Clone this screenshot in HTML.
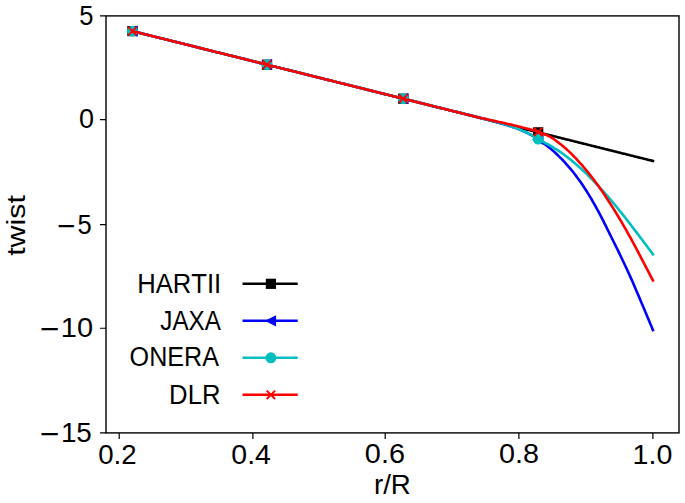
<!DOCTYPE html>
<html><head><meta charset="utf-8"><title>twist vs r/R</title>
<style>html,body{margin:0;padding:0;background:#fff;}body{width:685px;height:503px;overflow:hidden;font-family:"Liberation Sans",sans-serif;}svg{display:block;}text{font-kerning:none;}</style>
</head><body>
<svg width="685" height="503" viewBox="0 0 685 503">
<rect width="685" height="503" fill="#fff"/>
<defs><clipPath id="ax"><rect x="106.0" y="15.9" width="573.0" height="417.0"/></clipPath></defs>
<g clip-path="url(#ax)">
<polyline points="132.15,31.05 133.46,31.38 134.76,31.70 136.07,32.03 137.37,32.35 138.68,32.68 139.98,33.00 141.29,33.33 142.59,33.65 143.90,33.98 145.20,34.31 146.51,34.63 147.81,34.96 149.12,35.28 150.42,35.61 151.73,35.93 153.03,36.26 154.34,36.58 155.64,36.91 156.95,37.24 158.25,37.56 159.56,37.89 160.86,38.21 162.17,38.54 163.47,38.86 164.78,39.19 166.08,39.51 167.39,39.84 168.69,40.17 170.00,40.49 171.30,40.82 172.61,41.14 173.91,41.47 175.22,41.79 176.52,42.12 177.83,42.44 179.13,42.77 180.44,43.10 181.75,43.42 183.05,43.75 184.36,44.07 185.66,44.40 186.97,44.72 188.27,45.05 189.58,45.37 190.88,45.70 192.19,46.03 193.49,46.35 194.80,46.68 196.10,47.00 197.41,47.33 198.71,47.65 200.02,47.98 201.32,48.30 202.63,48.63 203.93,48.96 205.24,49.28 206.54,49.61 207.85,49.93 209.15,50.26 210.46,50.58 211.76,50.91 213.07,51.23 214.37,51.56 215.68,51.89 216.98,52.21 218.29,52.54 219.59,52.86 220.90,53.19 222.20,53.51 223.51,53.84 224.81,54.17 226.12,54.49 227.43,54.82 228.73,55.14 230.04,55.47 231.34,55.79 232.65,56.12 233.95,56.44 235.26,56.77 236.56,57.10 237.87,57.42 239.17,57.75 240.48,58.07 241.78,58.40 243.09,58.72 244.39,59.05 245.70,59.37 247.00,59.70 248.31,60.03 249.61,60.35 250.92,60.68 252.22,61.00 253.53,61.33 254.83,61.65 256.14,61.98 257.44,62.30 258.75,62.63 260.05,62.96 261.36,63.28 262.66,63.61 263.97,63.93 265.27,64.26 266.58,64.58 267.88,64.91 269.19,65.23 270.49,65.56 271.80,65.89 273.10,66.21 274.41,66.54 275.72,66.86 277.02,67.19 278.33,67.51 279.63,67.84 280.94,68.16 282.24,68.49 283.55,68.82 284.85,69.14 286.16,69.47 287.46,69.79 288.77,70.12 290.07,70.44 291.38,70.77 292.68,71.09 293.99,71.42 295.29,71.75 296.60,72.07 297.90,72.40 299.21,72.72 300.51,73.05 301.82,73.37 303.12,73.70 304.43,74.02 305.73,74.35 307.04,74.68 308.34,75.00 309.65,75.33 310.95,75.65 312.26,75.98 313.56,76.30 314.87,76.63 316.17,76.95 317.48,77.28 318.78,77.61 320.09,77.93 321.39,78.26 322.70,78.58 324.01,78.91 325.31,79.23 326.62,79.56 327.92,79.88 329.23,80.21 330.53,80.54 331.84,80.86 333.14,81.19 334.45,81.51 335.75,81.84 337.06,82.16 338.36,82.49 339.67,82.81 340.97,83.14 342.28,83.47 343.58,83.79 344.89,84.12 346.19,84.44 347.50,84.77 348.80,85.09 350.11,85.42 351.41,85.74 352.72,86.07 354.02,86.40 355.33,86.72 356.63,87.05 357.94,87.37 359.24,87.70 360.55,88.02 361.85,88.35 363.16,88.67 364.46,89.00 365.77,89.33 367.07,89.65 368.38,89.98 369.69,90.30 370.99,90.63 372.30,90.95 373.60,91.28 374.91,91.60 376.21,91.93 377.52,92.26 378.82,92.58 380.13,92.91 381.43,93.23 382.74,93.56 384.04,93.88 385.35,94.21 386.65,94.53 387.96,94.86 389.26,95.19 390.57,95.51 391.87,95.84 393.18,96.16 394.48,96.49 395.79,96.81 397.09,97.14 398.40,97.47 399.70,97.79 401.01,98.12 402.31,98.44 403.62,98.77 404.92,99.09 406.23,99.42 407.53,99.74 408.84,100.07 410.14,100.40 411.45,100.72 412.75,101.05 414.06,101.37 415.36,101.70 416.67,102.02 417.98,102.35 419.28,102.67 420.59,103.00 421.89,103.33 423.20,103.65 424.50,103.98 425.81,104.30 427.11,104.63 428.42,104.95 429.72,105.28 431.03,105.60 432.33,105.93 433.64,106.26 434.94,106.58 436.25,106.91 437.55,107.23 438.86,107.56 440.16,107.88 441.47,108.21 442.77,108.53 444.08,108.86 445.38,109.19 446.69,109.51 447.99,109.84 449.30,110.16 450.60,110.49 451.91,110.81 453.21,111.14 454.52,111.46 455.82,111.79 457.13,112.12 458.43,112.44 459.74,112.77 461.04,113.09 462.35,113.42 463.66,113.74 464.96,114.07 466.27,114.39 467.57,114.72 468.88,115.05 470.18,115.37 471.49,115.70 472.79,116.02 474.10,116.35 475.40,116.67 476.71,117.00 478.01,117.32 479.32,117.65 480.62,117.98 481.93,118.30 483.23,118.63 484.54,118.95 485.84,119.28 487.15,119.60 488.45,119.93 489.76,120.25 491.06,120.58 492.37,120.91 493.67,121.23 494.98,121.56 496.28,121.88 497.59,122.21 498.89,122.53 500.20,122.86 501.50,123.18 502.81,123.51 504.11,123.84 505.42,124.16 506.72,124.49 508.03,124.81 509.33,125.14 510.64,125.46 511.95,125.79 513.25,126.11 514.56,126.44 515.86,126.77 517.17,127.09 518.47,127.42 519.78,127.74 521.08,128.07 522.39,128.39 523.69,128.72 525.00,129.04 526.30,129.37 527.61,129.70 528.91,130.02 530.22,130.35 531.52,130.67 532.83,131.00 534.13,131.32 535.44,131.65 536.74,131.97 538.05,132.30 539.35,132.63 540.66,132.95 541.96,133.28 543.27,133.60 544.57,133.93 545.88,134.25 547.18,134.58 548.49,134.90 549.79,135.23 551.10,135.56 552.40,135.88 553.71,136.21 555.01,136.53 556.32,136.86 557.62,137.18 558.93,137.51 560.24,137.83 561.54,138.16 562.85,138.49 564.15,138.81 565.46,139.14 566.76,139.46 568.07,139.79 569.37,140.11 570.68,140.44 571.98,140.77 573.29,141.09 574.59,141.42 575.90,141.74 577.20,142.07 578.51,142.39 579.81,142.72 581.12,143.04 582.42,143.37 583.73,143.70 585.03,144.02 586.34,144.35 587.64,144.67 588.95,145.00 590.25,145.32 591.56,145.65 592.86,145.97 594.17,146.30 595.47,146.63 596.78,146.95 598.08,147.28 599.39,147.60 600.69,147.93 602.00,148.25 603.30,148.58 604.61,148.90 605.92,149.23 607.22,149.56 608.53,149.88 609.83,150.21 611.14,150.53 612.44,150.86 613.75,151.18 615.05,151.51 616.36,151.83 617.66,152.16 618.97,152.49 620.27,152.81 621.58,153.14 622.88,153.46 624.19,153.79 625.49,154.11 626.80,154.44 628.10,154.76 629.41,155.09 630.71,155.42 632.02,155.74 633.32,156.07 634.63,156.39 635.93,156.72 637.24,157.04 638.54,157.37 639.85,157.69 641.15,158.02 642.46,158.35 643.76,158.67 645.07,159.00 646.37,159.32 647.68,159.65 648.98,159.97 650.29,160.30 651.59,160.62 652.90,160.95" fill="none" stroke="#000000" stroke-width="2.6" stroke-linejoin="round" stroke-linecap="square"/>
<rect x="128.00" y="26.71" width="8.8" height="8.8" fill="#000000" stroke="#000000" stroke-width="1.4" stroke-linejoin="miter"/>
<rect x="262.55" y="60.28" width="8.8" height="8.8" fill="#000000" stroke="#000000" stroke-width="1.4" stroke-linejoin="miter"/>
<rect x="398.85" y="94.28" width="8.8" height="8.8" fill="#000000" stroke="#000000" stroke-width="1.4" stroke-linejoin="miter"/>
<rect x="533.80" y="127.94" width="8.8" height="8.8" fill="#000000" stroke="#000000" stroke-width="1.4" stroke-linejoin="miter"/>
<polyline points="132.15,31.05 133.46,31.38 134.76,31.70 136.07,32.03 137.37,32.35 138.68,32.68 139.98,33.00 141.29,33.33 142.59,33.65 143.90,33.98 145.20,34.31 146.51,34.63 147.81,34.96 149.12,35.28 150.42,35.61 151.73,35.93 153.03,36.26 154.34,36.58 155.64,36.91 156.95,37.24 158.25,37.56 159.56,37.89 160.86,38.21 162.17,38.54 163.47,38.86 164.78,39.19 166.08,39.51 167.39,39.84 168.69,40.17 170.00,40.49 171.30,40.82 172.61,41.14 173.91,41.47 175.22,41.79 176.52,42.12 177.83,42.44 179.13,42.77 180.44,43.10 181.75,43.42 183.05,43.75 184.36,44.07 185.66,44.40 186.97,44.72 188.27,45.05 189.58,45.37 190.88,45.70 192.19,46.03 193.49,46.35 194.80,46.68 196.10,47.00 197.41,47.33 198.71,47.65 200.02,47.98 201.32,48.30 202.63,48.63 203.93,48.96 205.24,49.28 206.54,49.61 207.85,49.93 209.15,50.26 210.46,50.58 211.76,50.91 213.07,51.23 214.37,51.56 215.68,51.89 216.98,52.21 218.29,52.54 219.59,52.86 220.90,53.19 222.20,53.51 223.51,53.84 224.81,54.17 226.12,54.49 227.43,54.82 228.73,55.14 230.04,55.47 231.34,55.79 232.65,56.12 233.95,56.44 235.26,56.77 236.56,57.10 237.87,57.42 239.17,57.75 240.48,58.07 241.78,58.40 243.09,58.72 244.39,59.05 245.70,59.37 247.00,59.70 248.31,60.03 249.61,60.35 250.92,60.68 252.22,61.00 253.53,61.33 254.83,61.65 256.14,61.98 257.44,62.30 258.75,62.63 260.05,62.96 261.36,63.28 262.66,63.61 263.97,63.93 265.27,64.26 266.58,64.58 267.88,64.91 269.19,65.23 270.49,65.56 271.80,65.89 273.10,66.21 274.41,66.54 275.72,66.86 277.02,67.19 278.33,67.51 279.63,67.84 280.94,68.16 282.24,68.49 283.55,68.82 284.85,69.14 286.16,69.47 287.46,69.79 288.77,70.12 290.07,70.44 291.38,70.77 292.68,71.09 293.99,71.42 295.29,71.75 296.60,72.07 297.90,72.40 299.21,72.72 300.51,73.05 301.82,73.37 303.12,73.70 304.43,74.02 305.73,74.35 307.04,74.68 308.34,75.00 309.65,75.33 310.95,75.65 312.26,75.98 313.56,76.30 314.87,76.63 316.17,76.95 317.48,77.28 318.78,77.61 320.09,77.93 321.39,78.26 322.70,78.58 324.01,78.91 325.31,79.23 326.62,79.56 327.92,79.88 329.23,80.21 330.53,80.54 331.84,80.86 333.14,81.19 334.45,81.51 335.75,81.84 337.06,82.16 338.36,82.49 339.67,82.81 340.97,83.14 342.28,83.47 343.58,83.79 344.89,84.12 346.19,84.44 347.50,84.77 348.80,85.09 350.11,85.42 351.41,85.74 352.72,86.07 354.02,86.40 355.33,86.72 356.63,87.05 357.94,87.37 359.24,87.70 360.55,88.02 361.85,88.35 363.16,88.67 364.46,89.00 365.77,89.33 367.07,89.65 368.38,89.98 369.69,90.30 370.99,90.63 372.30,90.95 373.60,91.28 374.91,91.60 376.21,91.93 377.52,92.26 378.82,92.58 380.13,92.91 381.43,93.23 382.74,93.56 384.04,93.88 385.35,94.21 386.65,94.53 387.96,94.86 389.26,95.19 390.57,95.51 391.87,95.84 393.18,96.16 394.48,96.49 395.79,96.81 397.09,97.14 398.40,97.47 399.70,97.79 401.01,98.12 402.31,98.44 403.62,98.77 404.92,99.09 406.23,99.42 407.53,99.74 408.84,100.07 410.14,100.40 411.45,100.72 412.75,101.05 414.06,101.37 415.36,101.70 416.67,102.02 417.98,102.35 419.28,102.67 420.59,103.00 421.89,103.33 423.20,103.65 424.50,103.98 425.81,104.30 427.11,104.63 428.42,104.95 429.72,105.28 431.03,105.60 432.33,105.93 433.64,106.26 434.94,106.58 436.25,106.91 437.55,107.23 438.86,107.56 440.16,107.88 441.47,108.21 442.77,108.53 444.08,108.86 445.38,109.19 446.69,109.51 447.99,109.84 449.30,110.16 450.60,110.49 451.91,110.81 453.21,111.14 454.52,111.46 455.82,111.79 457.13,112.12 458.43,112.44 459.74,112.77 461.04,113.09 462.35,113.42 463.66,113.74 464.96,114.07 466.27,114.39 467.57,114.72 468.88,115.05 470.18,115.37 471.49,115.70 472.79,116.02 474.10,116.35 475.40,116.67 476.71,117.00 478.01,117.32 479.32,117.65 480.62,117.98 481.93,118.31 483.23,118.65 484.54,118.99 485.84,119.33 487.15,119.67 488.45,120.01 489.76,120.35 491.06,120.69 492.37,121.04 493.67,121.39 494.98,121.74 496.28,122.09 497.59,122.44 498.89,122.80 500.20,123.16 501.50,123.53 502.81,123.91 504.11,124.29 505.42,124.68 506.72,125.08 508.03,125.48 509.33,125.89 510.64,126.31 511.95,126.74 513.25,127.18 514.56,127.64 515.86,128.12 517.17,128.60 518.47,129.10 519.78,129.61 521.08,130.14 522.39,130.69 523.69,131.28 525.00,131.88 526.30,132.51 527.61,133.16 528.91,133.83 530.22,134.51 531.52,135.22 532.83,135.97 534.13,136.76 535.44,137.58 536.74,138.42 538.05,139.27 539.35,140.15 540.66,141.04 541.96,141.95 543.27,142.90 544.57,143.87 545.88,144.87 547.18,145.90 548.49,146.94 549.79,148.01 551.10,149.11 552.40,150.23 553.71,151.39 555.01,152.58 556.32,153.80 557.62,155.05 558.93,156.32 560.24,157.61 561.54,158.93 562.85,160.28 564.15,161.67 565.46,163.09 566.76,164.54 568.07,166.02 569.37,167.53 570.68,169.08 571.98,170.66 573.29,172.29 574.59,173.96 575.90,175.66 577.20,177.41 578.51,179.19 579.81,181.00 581.12,182.86 582.42,184.76 583.73,186.71 585.03,188.71 586.34,190.74 587.64,192.82 588.95,194.93 590.25,197.08 591.56,199.28 592.86,201.53 594.17,203.83 595.47,206.18 596.78,208.56 598.08,210.97 599.39,213.41 600.69,215.87 602.00,218.39 603.30,220.96 604.61,223.56 605.92,226.19 607.22,228.83 608.53,231.47 609.83,234.11 611.14,236.73 612.44,239.35 613.75,241.98 615.05,244.61 616.36,247.26 617.66,249.92 618.97,252.60 620.27,255.31 621.58,258.02 622.88,260.75 624.19,263.49 625.49,266.26 626.80,269.05 628.10,271.87 629.41,274.73 630.71,277.63 632.02,280.58 633.32,283.58 634.63,286.61 635.93,289.66 637.24,292.73 638.54,295.80 639.85,298.88 641.15,301.94 642.46,305.02 643.76,308.11 645.07,311.20 646.37,314.30 647.68,317.41 648.98,320.53 650.29,323.66 651.59,326.80 652.90,329.95" fill="none" stroke="#0000ff" stroke-width="2.6" stroke-linejoin="round" stroke-linecap="square"/>
<path d="M127.90,31.11L136.90,26.61L136.90,35.61Z" fill="#0000ff" stroke="#0000ff" stroke-width="1.4" stroke-linejoin="miter"/>
<path d="M262.45,64.68L271.45,60.18L271.45,69.18Z" fill="#0000ff" stroke="#0000ff" stroke-width="1.4" stroke-linejoin="miter"/>
<path d="M398.75,98.68L407.75,94.18L407.75,103.18Z" fill="#0000ff" stroke="#0000ff" stroke-width="1.4" stroke-linejoin="miter"/>
<path d="M533.70,139.38L542.70,134.88L542.70,143.88Z" fill="#0000ff" stroke="#0000ff" stroke-width="1.4" stroke-linejoin="miter"/>
<polyline points="132.15,31.05 133.46,31.38 134.76,31.70 136.07,32.03 137.37,32.35 138.68,32.68 139.98,33.00 141.29,33.33 142.59,33.65 143.90,33.98 145.20,34.31 146.51,34.63 147.81,34.96 149.12,35.28 150.42,35.61 151.73,35.93 153.03,36.26 154.34,36.58 155.64,36.91 156.95,37.24 158.25,37.56 159.56,37.89 160.86,38.21 162.17,38.54 163.47,38.86 164.78,39.19 166.08,39.51 167.39,39.84 168.69,40.17 170.00,40.49 171.30,40.82 172.61,41.14 173.91,41.47 175.22,41.79 176.52,42.12 177.83,42.44 179.13,42.77 180.44,43.10 181.75,43.42 183.05,43.75 184.36,44.07 185.66,44.40 186.97,44.72 188.27,45.05 189.58,45.37 190.88,45.70 192.19,46.03 193.49,46.35 194.80,46.68 196.10,47.00 197.41,47.33 198.71,47.65 200.02,47.98 201.32,48.30 202.63,48.63 203.93,48.96 205.24,49.28 206.54,49.61 207.85,49.93 209.15,50.26 210.46,50.58 211.76,50.91 213.07,51.23 214.37,51.56 215.68,51.89 216.98,52.21 218.29,52.54 219.59,52.86 220.90,53.19 222.20,53.51 223.51,53.84 224.81,54.17 226.12,54.49 227.43,54.82 228.73,55.14 230.04,55.47 231.34,55.79 232.65,56.12 233.95,56.44 235.26,56.77 236.56,57.10 237.87,57.42 239.17,57.75 240.48,58.07 241.78,58.40 243.09,58.72 244.39,59.05 245.70,59.37 247.00,59.70 248.31,60.03 249.61,60.35 250.92,60.68 252.22,61.00 253.53,61.33 254.83,61.65 256.14,61.98 257.44,62.30 258.75,62.63 260.05,62.96 261.36,63.28 262.66,63.61 263.97,63.93 265.27,64.26 266.58,64.58 267.88,64.91 269.19,65.23 270.49,65.56 271.80,65.89 273.10,66.21 274.41,66.54 275.72,66.86 277.02,67.19 278.33,67.51 279.63,67.84 280.94,68.16 282.24,68.49 283.55,68.82 284.85,69.14 286.16,69.47 287.46,69.79 288.77,70.12 290.07,70.44 291.38,70.77 292.68,71.09 293.99,71.42 295.29,71.75 296.60,72.07 297.90,72.40 299.21,72.72 300.51,73.05 301.82,73.37 303.12,73.70 304.43,74.02 305.73,74.35 307.04,74.68 308.34,75.00 309.65,75.33 310.95,75.65 312.26,75.98 313.56,76.30 314.87,76.63 316.17,76.95 317.48,77.28 318.78,77.61 320.09,77.93 321.39,78.26 322.70,78.58 324.01,78.91 325.31,79.23 326.62,79.56 327.92,79.88 329.23,80.21 330.53,80.54 331.84,80.86 333.14,81.19 334.45,81.51 335.75,81.84 337.06,82.16 338.36,82.49 339.67,82.81 340.97,83.14 342.28,83.47 343.58,83.79 344.89,84.12 346.19,84.44 347.50,84.77 348.80,85.09 350.11,85.42 351.41,85.74 352.72,86.07 354.02,86.40 355.33,86.72 356.63,87.05 357.94,87.37 359.24,87.70 360.55,88.02 361.85,88.35 363.16,88.67 364.46,89.00 365.77,89.33 367.07,89.65 368.38,89.98 369.69,90.30 370.99,90.63 372.30,90.95 373.60,91.28 374.91,91.60 376.21,91.93 377.52,92.26 378.82,92.58 380.13,92.91 381.43,93.23 382.74,93.56 384.04,93.88 385.35,94.21 386.65,94.53 387.96,94.86 389.26,95.19 390.57,95.51 391.87,95.84 393.18,96.16 394.48,96.49 395.79,96.81 397.09,97.14 398.40,97.47 399.70,97.79 401.01,98.12 402.31,98.44 403.62,98.77 404.92,99.09 406.23,99.42 407.53,99.74 408.84,100.07 410.14,100.40 411.45,100.72 412.75,101.05 414.06,101.37 415.36,101.70 416.67,102.02 417.98,102.35 419.28,102.67 420.59,103.00 421.89,103.33 423.20,103.65 424.50,103.98 425.81,104.30 427.11,104.63 428.42,104.95 429.72,105.28 431.03,105.60 432.33,105.93 433.64,106.26 434.94,106.58 436.25,106.91 437.55,107.23 438.86,107.56 440.16,107.88 441.47,108.21 442.77,108.53 444.08,108.86 445.38,109.19 446.69,109.51 447.99,109.84 449.30,110.16 450.60,110.49 451.91,110.81 453.21,111.14 454.52,111.46 455.82,111.79 457.13,112.12 458.43,112.44 459.74,112.77 461.04,113.09 462.35,113.42 463.66,113.74 464.96,114.07 466.27,114.39 467.57,114.72 468.88,115.05 470.18,115.37 471.49,115.70 472.79,116.02 474.10,116.35 475.40,116.67 476.71,117.00 478.01,117.32 479.32,117.65 480.62,117.98 481.93,118.30 483.23,118.63 484.54,118.95 485.84,119.28 487.15,119.60 488.45,119.93 489.76,120.25 491.06,120.58 492.37,120.91 493.67,121.25 494.98,121.59 496.28,121.93 497.59,122.27 498.89,122.62 500.20,122.96 501.50,123.32 502.81,123.71 504.11,124.10 505.42,124.51 506.72,124.93 508.03,125.36 509.33,125.79 510.64,126.21 511.95,126.65 513.25,127.10 514.56,127.56 515.86,128.03 517.17,128.51 518.47,129.00 519.78,129.51 521.08,130.04 522.39,130.60 523.69,131.19 525.00,131.80 526.30,132.43 527.61,133.08 528.91,133.74 530.22,134.40 531.52,135.11 532.83,135.84 534.13,136.61 535.44,137.39 536.74,138.18 538.05,138.96 539.35,139.72 540.66,140.46 541.96,141.17 543.27,141.88 544.57,142.58 545.88,143.29 547.18,144.00 548.49,144.72 549.79,145.46 551.10,146.22 552.40,146.99 553.71,147.78 555.01,148.57 556.32,149.38 557.62,150.21 558.93,151.06 560.24,151.94 561.54,152.84 562.85,153.77 564.15,154.74 565.46,155.72 566.76,156.72 568.07,157.74 569.37,158.77 570.68,159.81 571.98,160.87 573.29,161.95 574.59,163.05 575.90,164.16 577.20,165.29 578.51,166.44 579.81,167.60 581.12,168.77 582.42,169.97 583.73,171.18 585.03,172.42 586.34,173.67 587.64,174.93 588.95,176.22 590.25,177.51 591.56,178.83 592.86,180.16 594.17,181.52 595.47,182.89 596.78,184.28 598.08,185.68 599.39,187.09 600.69,188.51 602.00,189.95 603.30,191.40 604.61,192.86 605.92,194.34 607.22,195.83 608.53,197.33 609.83,198.85 611.14,200.38 612.44,201.93 613.75,203.49 615.05,205.07 616.36,206.66 617.66,208.26 618.97,209.86 620.27,211.48 621.58,213.11 622.88,214.74 624.19,216.39 625.49,218.05 626.80,219.71 628.10,221.39 629.41,223.07 630.71,224.76 632.02,226.46 633.32,228.18 634.63,229.90 635.93,231.63 637.24,233.36 638.54,235.09 639.85,236.83 641.15,238.57 642.46,240.31 643.76,242.05 645.07,243.80 646.37,245.55 647.68,247.30 648.98,249.06 650.29,250.82 651.59,252.58 652.90,254.35" fill="none" stroke="#00bfbf" stroke-width="2.6" stroke-linejoin="round" stroke-linecap="square"/>
<circle cx="132.40" cy="31.11" r="4.75" fill="#00bfbf" stroke="#00bfbf" stroke-width="1.4"/>
<circle cx="266.95" cy="64.68" r="4.75" fill="#00bfbf" stroke="#00bfbf" stroke-width="1.4"/>
<circle cx="403.25" cy="98.68" r="4.75" fill="#00bfbf" stroke="#00bfbf" stroke-width="1.4"/>
<circle cx="538.20" cy="139.04" r="4.75" fill="#00bfbf" stroke="#00bfbf" stroke-width="1.4"/>
<polyline points="132.15,31.05 133.46,31.38 134.76,31.70 136.07,32.03 137.37,32.35 138.68,32.68 139.98,33.00 141.29,33.33 142.59,33.65 143.90,33.98 145.20,34.31 146.51,34.63 147.81,34.96 149.12,35.28 150.42,35.61 151.73,35.93 153.03,36.26 154.34,36.58 155.64,36.91 156.95,37.24 158.25,37.56 159.56,37.89 160.86,38.21 162.17,38.54 163.47,38.86 164.78,39.19 166.08,39.51 167.39,39.84 168.69,40.17 170.00,40.49 171.30,40.82 172.61,41.14 173.91,41.47 175.22,41.79 176.52,42.12 177.83,42.44 179.13,42.77 180.44,43.10 181.75,43.42 183.05,43.75 184.36,44.07 185.66,44.40 186.97,44.72 188.27,45.05 189.58,45.37 190.88,45.70 192.19,46.03 193.49,46.35 194.80,46.68 196.10,47.00 197.41,47.33 198.71,47.65 200.02,47.98 201.32,48.30 202.63,48.63 203.93,48.96 205.24,49.28 206.54,49.61 207.85,49.93 209.15,50.26 210.46,50.58 211.76,50.91 213.07,51.23 214.37,51.56 215.68,51.89 216.98,52.21 218.29,52.54 219.59,52.86 220.90,53.19 222.20,53.51 223.51,53.84 224.81,54.17 226.12,54.49 227.43,54.82 228.73,55.14 230.04,55.47 231.34,55.79 232.65,56.12 233.95,56.44 235.26,56.77 236.56,57.10 237.87,57.42 239.17,57.75 240.48,58.07 241.78,58.40 243.09,58.72 244.39,59.05 245.70,59.37 247.00,59.70 248.31,60.03 249.61,60.35 250.92,60.68 252.22,61.00 253.53,61.33 254.83,61.65 256.14,61.98 257.44,62.30 258.75,62.63 260.05,62.96 261.36,63.28 262.66,63.61 263.97,63.93 265.27,64.26 266.58,64.58 267.88,64.91 269.19,65.23 270.49,65.56 271.80,65.89 273.10,66.21 274.41,66.54 275.72,66.86 277.02,67.19 278.33,67.51 279.63,67.84 280.94,68.16 282.24,68.49 283.55,68.82 284.85,69.14 286.16,69.47 287.46,69.79 288.77,70.12 290.07,70.44 291.38,70.77 292.68,71.09 293.99,71.42 295.29,71.75 296.60,72.07 297.90,72.40 299.21,72.72 300.51,73.05 301.82,73.37 303.12,73.70 304.43,74.02 305.73,74.35 307.04,74.68 308.34,75.00 309.65,75.33 310.95,75.65 312.26,75.98 313.56,76.30 314.87,76.63 316.17,76.95 317.48,77.28 318.78,77.61 320.09,77.93 321.39,78.26 322.70,78.58 324.01,78.91 325.31,79.23 326.62,79.56 327.92,79.88 329.23,80.21 330.53,80.54 331.84,80.86 333.14,81.19 334.45,81.51 335.75,81.84 337.06,82.16 338.36,82.49 339.67,82.81 340.97,83.14 342.28,83.47 343.58,83.79 344.89,84.12 346.19,84.44 347.50,84.77 348.80,85.09 350.11,85.42 351.41,85.74 352.72,86.07 354.02,86.40 355.33,86.72 356.63,87.05 357.94,87.37 359.24,87.70 360.55,88.02 361.85,88.35 363.16,88.67 364.46,89.00 365.77,89.33 367.07,89.65 368.38,89.98 369.69,90.30 370.99,90.63 372.30,90.95 373.60,91.28 374.91,91.60 376.21,91.93 377.52,92.26 378.82,92.58 380.13,92.91 381.43,93.23 382.74,93.56 384.04,93.88 385.35,94.21 386.65,94.53 387.96,94.86 389.26,95.19 390.57,95.51 391.87,95.84 393.18,96.16 394.48,96.49 395.79,96.81 397.09,97.14 398.40,97.47 399.70,97.79 401.01,98.12 402.31,98.44 403.62,98.77 404.92,99.09 406.23,99.42 407.53,99.74 408.84,100.07 410.14,100.40 411.45,100.72 412.75,101.05 414.06,101.37 415.36,101.70 416.67,102.02 417.98,102.35 419.28,102.67 420.59,103.00 421.89,103.33 423.20,103.65 424.50,103.98 425.81,104.30 427.11,104.63 428.42,104.95 429.72,105.28 431.03,105.60 432.33,105.93 433.64,106.26 434.94,106.58 436.25,106.91 437.55,107.23 438.86,107.56 440.16,107.88 441.47,108.21 442.77,108.53 444.08,108.86 445.38,109.19 446.69,109.51 447.99,109.84 449.30,110.16 450.60,110.49 451.91,110.81 453.21,111.14 454.52,111.46 455.82,111.79 457.13,112.12 458.43,112.44 459.74,112.77 461.04,113.09 462.35,113.42 463.66,113.74 464.96,114.07 466.27,114.39 467.57,114.72 468.88,115.05 470.18,115.37 471.49,115.70 472.79,116.02 474.10,116.35 475.40,116.67 476.71,117.00 478.01,117.32 479.32,117.65 480.62,117.96 481.93,118.24 483.23,118.53 484.54,118.82 485.84,119.10 487.15,119.39 488.45,119.68 489.76,119.96 491.06,120.25 492.37,120.53 493.67,120.82 494.98,121.11 496.28,121.39 497.59,121.68 498.89,121.97 500.20,122.25 501.50,122.54 502.81,122.82 504.11,123.10 505.42,123.38 506.72,123.66 508.03,123.95 509.33,124.25 510.64,124.55 511.95,124.86 513.25,125.17 514.56,125.48 515.86,125.79 517.17,126.10 518.47,126.42 519.78,126.74 521.08,127.07 522.39,127.40 523.69,127.74 525.00,128.07 526.30,128.41 527.61,128.76 528.91,129.10 530.22,129.45 531.52,129.81 532.83,130.19 534.13,130.58 535.44,130.99 536.74,131.40 538.05,131.83 539.35,132.27 540.66,132.72 541.96,133.19 543.27,133.70 544.57,134.24 545.88,134.81 547.18,135.41 548.49,136.03 549.79,136.68 551.10,137.38 552.40,138.16 553.71,139.03 555.01,139.96 556.32,140.93 557.62,141.93 558.93,142.95 560.24,143.96 561.54,144.99 562.85,146.06 564.15,147.17 565.46,148.30 566.76,149.47 568.07,150.66 569.37,151.88 570.68,153.12 571.98,154.40 573.29,155.72 574.59,157.08 575.90,158.47 577.20,159.88 578.51,161.31 579.81,162.76 581.12,164.22 582.42,165.71 583.73,167.23 585.03,168.77 586.34,170.34 587.64,171.93 588.95,173.54 590.25,175.18 591.56,176.84 592.86,178.53 594.17,180.25 595.47,182.00 596.78,183.77 598.08,185.57 599.39,187.39 600.69,189.24 602.00,191.12 603.30,193.04 604.61,194.99 605.92,196.96 607.22,198.95 608.53,200.96 609.83,202.98 611.14,205.02 612.44,207.09 613.75,209.17 615.05,211.27 616.36,213.40 617.66,215.54 618.97,217.71 620.27,219.90 621.58,222.11 622.88,224.35 624.19,226.61 625.49,228.90 626.80,231.20 628.10,233.53 629.41,235.87 630.71,238.23 632.02,240.62 633.32,243.04 634.63,245.48 635.93,247.93 637.24,250.40 638.54,252.87 639.85,255.35 641.15,257.82 642.46,260.30 643.76,262.80 645.07,265.29 646.37,267.80 647.68,270.31 648.98,272.84 650.29,275.37 651.59,277.90 652.90,280.45" fill="none" stroke="#ff0000" stroke-width="2.6" stroke-linejoin="round" stroke-linecap="square"/>
<path d="M128.20,26.91L136.60,35.31M128.20,35.31L136.60,26.91" stroke="#ff0000" stroke-width="1.9" fill="none" stroke-linecap="butt"/>
<path d="M262.75,60.48L271.15,68.88M262.75,68.88L271.15,60.48" stroke="#ff0000" stroke-width="1.9" fill="none" stroke-linecap="butt"/>
<path d="M399.05,94.48L407.45,102.88M399.05,102.88L407.45,94.48" stroke="#ff0000" stroke-width="1.9" fill="none" stroke-linecap="butt"/>
<path d="M534.00,127.68L542.40,136.08M534.00,136.08L542.40,127.68" stroke="#ff0000" stroke-width="1.9" fill="none" stroke-linecap="butt"/>
</g>
<rect x="106.0" y="15.9" width="573.0" height="417.0" fill="none" stroke="#000" stroke-width="1.4" stroke-linejoin="miter"/>
<path d="M119.2,432.9V438.9M252.9,432.9V438.9M385.2,432.9V438.9M518.9,432.9V438.9M652.9,432.9V438.9M106.0,15.9H100.0M106.0,119.55H100.0M106.0,224.55H100.0M106.0,328.27H100.0M106.0,432.9H100.0" stroke="#000" stroke-width="1.2" fill="none"/>
<g font-family="Liberation Sans, sans-serif" fill="#000">
<text transform="translate(79.28,24.95) scale(0.9383,1)" font-size="27.2">5</text>
<text transform="translate(78.95,127.80) scale(0.9921,1)" font-size="27.2">0</text>
<text transform="translate(56.95,235.79) scale(1.0639,1)" font-size="29.6">−</text>
<text transform="translate(77.48,233.85) scale(0.9383,1)" font-size="27.2">5</text>
<text transform="translate(39.85,338.79) scale(1.1335,1)" font-size="29.6">−</text>
<text transform="translate(60.79,336.85) scale(1.0656,1)" font-size="27.2">10</text>
<text transform="translate(39.85,444.09) scale(1.1335,1)" font-size="29.6">−</text>
<text transform="translate(60.88,442.15) scale(1.0244,1)" font-size="27.2">15</text>
<text transform="translate(98.22,463.55) scale(1.0161,1)" font-size="27.2">0.2</text>
<text transform="translate(231.29,463.65) scale(1.0486,1)" font-size="27.2">0.4</text>
<text transform="translate(364.87,463.35) scale(1.0604,1)" font-size="27.2">0.6</text>
<text transform="translate(499.08,463.45) scale(1.0572,1)" font-size="27.2">0.8</text>
<text transform="translate(632.62,463.55) scale(1.0511,1)" font-size="27.2">1.0</text>
<text transform="translate(373.96,494.15) scale(1.0184,1)" font-size="27.2">r/R</text>
<text transform="translate(137.30,292.95) scale(0.9418,1)" font-size="27.2">HARTII</text>
<text transform="translate(160.32,329.55) scale(0.8912,1)" font-size="27.2">JAXA</text>
<text transform="translate(129.61,366.30) scale(0.9247,1)" font-size="27.2">ONERA</text>
<text transform="translate(169.09,403.55) scale(0.9446,1)" font-size="27.2">DLR</text>
<text transform="translate(25.10,255.86) rotate(-90) scale(1.1689,1)" font-size="26">twist</text>
</g>
<path d="M243.8,283.8H296.4" stroke="#000000" stroke-width="2.6" stroke-linecap="square"/>
<rect x="266.50" y="279.40" width="8.8" height="8.8" fill="#000000" stroke="#000000" stroke-width="1.4" stroke-linejoin="miter"/>
<path d="M243.8,320.8H296.4" stroke="#0000ff" stroke-width="2.6" stroke-linecap="square"/>
<path d="M266.40,320.80L275.40,316.30L275.40,325.30Z" fill="#0000ff" stroke="#0000ff" stroke-width="1.4" stroke-linejoin="miter"/>
<path d="M243.8,357.8H296.4" stroke="#00bfbf" stroke-width="2.6" stroke-linecap="square"/>
<circle cx="270.90" cy="357.80" r="4.75" fill="#00bfbf" stroke="#00bfbf" stroke-width="1.4"/>
<path d="M243.8,394.8H296.4" stroke="#ff0000" stroke-width="2.6" stroke-linecap="square"/>
<path d="M266.70,390.60L275.10,399.00M266.70,399.00L275.10,390.60" stroke="#ff0000" stroke-width="1.9" fill="none" stroke-linecap="butt"/>
</svg>
</body></html>
